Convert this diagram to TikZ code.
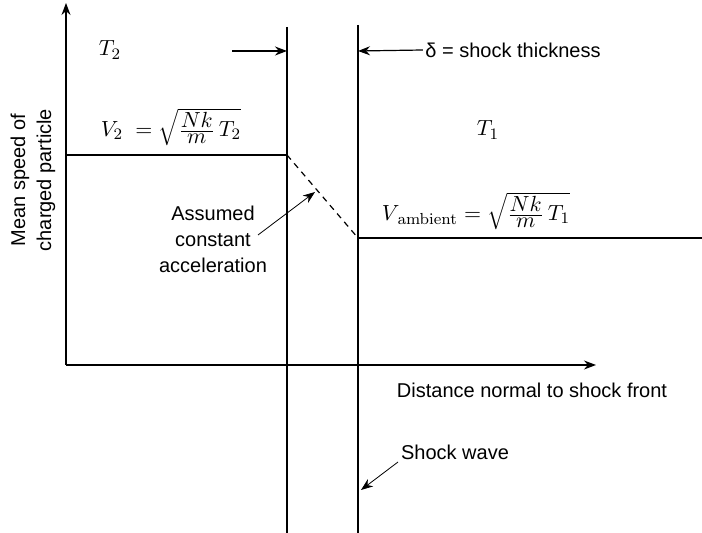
\documentclass[tikz,border=0pt]{standalone}
\usepackage[no-math]{fontspec}
\setmainfont{Liberation Sans}
\usetikzlibrary{arrows.meta}

\newcommand{\nkm}{\frac{\textstyle Nk}{\textstyle m}}

\begin{document}
\begin{tikzpicture}[x=0.5pt, y=-0.5pt, font=\fontsize{10}{13}\selectfont,
        line width=0.6pt,
        tip/.style={-{Stealth[length=6pt, width=4.5pt]}},
        txt/.style={inner sep=1pt, align=center},
        eqn/.style={inner sep=1pt, font=\fontsize{11}{13}\selectfont}]
      \useasboundingbox (0,0) rectangle (702,533);
      % axes and shock lines
      \coordinate (origin) at (66,365);
      \coordinate (ytop)   at (66,3);
      \coordinate (xend)   at (596,365);
      \coordinate (s2top)  at (287,27);
      \coordinate (s2bot)  at (287,533);
      \coordinate (s1top)  at (358,25);
      \coordinate (s1bot)  at (358,533);
      \coordinate (v2left) at (66,155);
      \coordinate (v2end)  at (287,155);
      \coordinate (v1start)at (358,238);
      \coordinate (v1right)at (702,238);
      \coordinate (ttail)  at (232,51);
      \coordinate (ttip)   at (287,51);
      \coordinate (dtip)   at (358,51);
      \coordinate (acctail)at (258,235);
      \coordinate (acctip) at (315,192);
      \coordinate (swtail) at (398,462);
      \coordinate (swtip)  at (361,490);

      \node[eqn] (t2)    at (110,50)  {$T_2$};
      \node[eqn] (t1)    at (488,130) {$T_1$};
      \node[txt] (delta) at (513,50)  {δ = shock thickness};
      \node[eqn] (v2)    at (171,127) {$V_2\;=\sqrt{\nkm\,T_2}$};
      \node[eqn] (v1)    at (476,211) {$V_{\,\mathrm{ambient}}=\sqrt{\nkm\,T_1}$};
      \node[txt] (acc)   at (213,239) {Assumed\\constant\\acceleration};
      \node[txt, rotate=90] (ylab) at (33,180) {Mean speed of\\charged particle};
      \node[txt] (xlab)  at (532,390) {Distance normal to shock front};
      \node[txt] (sw)    at (455,452) {Shock wave};

      \draw[tip] (origin) -- (ytop);
      \draw[tip] (origin) -- (xend);
      \draw (s2top) -- (s2bot);
      \draw (s1top) -- (s1bot);
      \draw (v2left) -- (v2end);
      \draw[dash pattern=on 3pt off 2.5pt] (v2end) -- (v1start);
      \draw (v1start) -- (v1right);
      \draw[tip] (ttail) -- (ttip);
      \draw[tip] (delta.west) -- (dtip);
      \draw[tip, line width=0.4pt] (acctail) -- (acctip);
      \draw[tip, line width=0.4pt] (swtail) -- (swtip);
    \end{tikzpicture}
\end{document}
